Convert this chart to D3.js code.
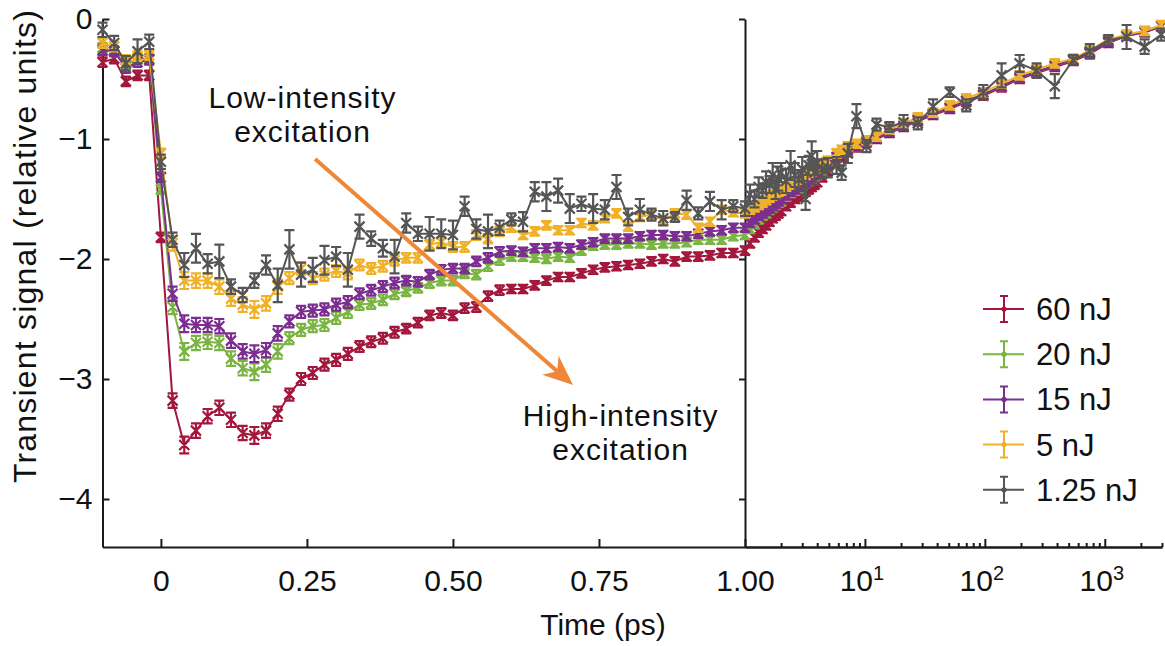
<!DOCTYPE html>
<html>
<head>
<meta charset="utf-8">
<script src="https://cdn.jsdelivr.net/npm/d3@7"></script>
<style>
  body { margin: 0; background: #fff; }
  svg { display: block; }
  text { font-family: "Liberation Sans", Arial, Helvetica, sans-serif; fill: #111; }
</style>
</head>
<body>
<svg id="chart" width="1165" height="646"></svg>
<script>
// ---- Data -----------------------------------------------------------------
// Delay times (ps): linear segment and logarithmic segment
const timeLeft = [-0.10,-0.08,-0.06,-0.04,-0.02,0.00,0.02,0.04,0.06,0.08,0.10,0.12,0.14,0.16,0.18,0.20,
  0.22,0.24,0.26,0.28,0.30,0.32,0.34,0.36,0.38,0.40,0.42,0.44,0.46,0.48,0.50,0.52,0.54,0.56,0.58,0.60,
  0.62,0.64,0.66,0.68,0.70,0.72,0.74,0.76,0.78,0.80,0.82,0.84,0.86,0.88,0.90,0.92,0.94,0.96,0.98,1.00];
const timeRight = [1.0,1.1,1.2,1.3,1.4,1.5,1.6,1.7,1.8,1.9,2.0,2.2,2.4,2.6,2.8,3.0,3.2,3.4,3.6,3.8,4.0,
  4.4,4.9,5.8,6.4,7.2,8.5,10.3,12.5,16,21,27.6,37,51,70,97,138,195,270,383,546,750,1070,1520,2150,2960];

const seriesLabels = ["60 nJ", "20 nJ", "15 nJ", "5 nJ", "1.25 nJ"];

// Transient signal, linear time segment
const sig60Left = [-0.36,-0.33,-0.52,-0.47,-0.47,-1.82,-3.18,-3.55,-3.43,-3.31,-3.24,-3.34,-3.45,-3.47,-3.43,-3.29,
  -3.13,-3.00,-2.95,-2.88,-2.84,-2.79,-2.73,-2.69,-2.66,-2.61,-2.58,-2.53,-2.47,-2.45,-2.47,-2.41,-2.40,-2.31,-2.26,-2.25,
  -2.25,-2.22,-2.18,-2.15,-2.15,-2.12,-2.09,-2.07,-2.06,-2.05,-2.04,-2.02,-2.00,-2.02,-1.98,-1.98,-1.97,-1.95,-1.95,-1.93];
const sig20Left = [-0.24,-0.27,-0.38,-0.33,-0.33,-1.42,-2.40,-2.77,-2.70,-2.69,-2.70,-2.83,-2.91,-2.94,-2.88,-2.77,
  -2.66,-2.59,-2.56,-2.55,-2.49,-2.44,-2.38,-2.37,-2.34,-2.29,-2.27,-2.24,-2.20,-2.18,-2.18,-2.12,-2.13,-2.06,-2.01,-1.98,
  -1.98,-1.99,-2.00,-1.98,-1.99,-1.93,-1.89,-1.88,-1.88,-1.87,-1.87,-1.88,-1.87,-1.87,-1.86,-1.84,-1.84,-1.84,-1.81,-1.80];
const sig15Left = [-0.26,-0.27,-0.41,-0.36,-0.34,-1.32,-2.29,-2.54,-2.55,-2.55,-2.56,-2.68,-2.77,-2.79,-2.76,-2.62,
  -2.52,-2.44,-2.43,-2.42,-2.38,-2.36,-2.29,-2.26,-2.23,-2.20,-2.18,-2.19,-2.13,-2.09,-2.08,-2.08,-2.02,-1.99,-1.94,-1.93,
  -1.94,-1.91,-1.91,-1.90,-1.91,-1.88,-1.86,-1.83,-1.83,-1.83,-1.81,-1.80,-1.80,-1.81,-1.81,-1.79,-1.77,-1.76,-1.74,-1.74];
const sig5Left = [-0.20,-0.23,-0.34,-0.31,-0.30,-1.12,-1.87,-2.18,-2.18,-2.18,-2.23,-2.33,-2.38,-2.42,-2.37,-2.23,
  -2.16,-2.08,-2.16,-2.13,-2.10,-2.12,-2.05,-2.08,-2.06,-2.01,-1.99,-1.99,-1.88,-1.86,-1.90,-1.90,-1.80,-1.83,-1.77,-1.74,
  -1.80,-1.77,-1.72,-1.76,-1.76,-1.70,-1.72,-1.66,-1.62,-1.73,-1.65,-1.63,-1.68,-1.62,-1.63,-1.74,-1.69,-1.59,-1.61,-1.62];
const sig125Left = [-0.09,-0.20,-0.37,-0.27,-0.19,-1.19,-1.84,-2.05,-1.91,-2.04,-2.02,-2.23,-2.30,-2.18,-2.05,-2.22,
  -1.92,-2.13,-2.09,-2.01,-1.98,-2.09,-1.73,-1.83,-1.91,-1.98,-1.70,-1.79,-1.79,-1.79,-1.80,-1.56,-1.75,-1.77,-1.74,-1.67,
  -1.69,-1.44,-1.48,-1.43,-1.58,-1.54,-1.58,-1.59,-1.40,-1.65,-1.59,-1.63,-1.66,-1.65,-1.51,-1.62,-1.52,-1.59,-1.56,-1.58];

// Transient signal, logarithmic time segment
const sig60Right = [-1.93,-1.87,-1.82,-1.78,-1.75,-1.72,-1.69,-1.66,-1.64,-1.62,-1.60,-1.56,-1.53,-1.50,-1.48,-1.46,
  -1.44,-1.42,-1.40,-1.38,-1.36,-1.32,-1.27,-1.19,-1.15,-1.11,-1.07,-1.03,-1.00,-0.95,-0.90,-0.85,-0.80,-0.75,-0.69,-0.64,
  -0.57,-0.50,-0.45,-0.40,-0.35,-0.29,-0.20,-0.14,-0.11,-0.06];
const sig20Right = [-1.80,-1.75,-1.71,-1.67,-1.64,-1.62,-1.59,-1.57,-1.55,-1.53,-1.52,-1.48,-1.45,-1.43,-1.41,-1.39,
  -1.37,-1.35,-1.33,-1.31,-1.30,-1.26,-1.22,-1.16,-1.12,-1.09,-1.06,-1.02,-0.99,-0.94,-0.89,-0.84,-0.79,-0.74,-0.68,-0.63,
  -0.56,-0.49,-0.44,-0.39,-0.34,-0.28,-0.19,-0.14,-0.10,-0.06];
const sig15Right = [-1.74,-1.70,-1.67,-1.64,-1.62,-1.60,-1.58,-1.56,-1.54,-1.52,-1.50,-1.47,-1.44,-1.42,-1.40,-1.38,
  -1.36,-1.34,-1.32,-1.30,-1.29,-1.25,-1.22,-1.15,-1.12,-1.09,-1.06,-1.02,-0.99,-0.94,-0.89,-0.84,-0.79,-0.74,-0.68,-0.63,
  -0.56,-0.49,-0.44,-0.39,-0.34,-0.28,-0.19,-0.14,-0.11,-0.06];
const sig5Right = [-1.62,-1.59,-1.57,-1.55,-1.53,-1.51,-1.49,-1.47,-1.46,-1.44,-1.43,-1.40,-1.38,-1.36,-1.34,-1.32,
  -1.30,-1.28,-1.27,-1.25,-1.24,-1.21,-1.18,-1.12,-1.09,-1.06,-1.04,-1.01,-0.98,-0.92,-0.87,-0.82,-0.78,-0.72,-0.66,-0.61,
  -0.54,-0.47,-0.42,-0.37,-0.33,-0.26,-0.17,-0.13,-0.10,-0.05];
const sig125Right = [-1.58,-1.46,-1.50,-1.40,-1.43,-1.36,-1.38,-1.30,-1.42,-1.33,-1.28,-1.35,-1.22,-1.30,-1.34,-1.25,
  -1.50,-1.22,-1.14,-1.28,-1.20,-1.25,-1.24,-1.22,-1.28,-1.12,-0.81,-1.06,-0.88,-0.90,-0.86,-0.87,-0.73,-0.61,-0.72,-0.61,
  -0.47,-0.37,-0.43,-0.56,-0.34,-0.27,-0.175,-0.15,-0.23,-0.13];

// Error-bar half widths (signal units)
const errColourLeft = [0.04,0.04,0.04,0.04,0.04,0.04,0.06,0.07,0.06,0.06,0.06,0.06,0.06,0.07,0.06,0.06,
  0.05,0.05,0.05,0.05,0.05,0.05,0.045,0.045,0.045,0.045,0.04,0.04,0.04,0.04,0.04,0.04,0.04,0.04,0.04,0.035,
  0.035,0.035,0.035,0.035,0.035,0.035,0.035,0.035,0.035,0.035,0.035,0.035,0.035,0.035,0.035,0.035,0.035,0.035,0.035,0.035];
const errGreyLeft = [0.06,0.06,0.06,0.10,0.06,0.06,0.06,0.10,0.12,0.08,0.14,0.06,0.06,0.06,0.08,0.14,
  0.16,0.10,0.10,0.12,0.08,0.14,0.10,0.06,0.07,0.14,0.08,0.06,0.14,0.12,0.12,0.08,0.08,0.14,0.06,0.05,
  0.08,0.08,0.12,0.10,0.12,0.06,0.12,0.08,0.10,0.07,0.09,0.05,0.06,0.04,0.08,0.05,0.08,0.08,0.05,0.06];
const errColourRight = [0.035,0.035,0.035,0.035,0.035,0.035,0.035,0.035,0.035,0.035,0.035,0.035,0.035,0.035,0.035,0.035,
  0.035,0.035,0.035,0.035,0.035,0.035,0.035,0.035,0.035,0.035,0.035,0.035,0.035,0.035,0.035,0.035,0.035,0.035,0.035,0.035,
  0.035,0.035,0.035,0.035,0.035,0.035,0.035,0.035,0.035,0.035];
const errGreyRight = [0.06,0.08,0.07,0.08,0.06,0.09,0.07,0.10,0.08,0.10,0.08,0.10,0.12,0.10,0.08,0.10,
  0.09,0.08,0.12,0.10,0.10,0.08,0.08,0.07,0.06,0.08,0.10,0.05,0.05,0.04,0.06,0.05,0.06,0.04,0.05,0.06,
  0.10,0.07,0.06,0.10,0.04,0.06,0.04,0.10,0.06,0.05];

const yTicks = [0, -1, -2, -3, -4];
const xTicksLinear = [0, 0.25, 0.5, 0.75, 1.0];
const xTickLabelsLinear = ["0", "0.25", "0.50", "0.75", "1.00"];
const xTicksLog = [10, 100, 1000];
const xTickExponents = ["1", "2", "3"];

// ---- Styles -----------------------------------------------------------------
const colours = ["#a4173c", "#7ab443", "#7b2e8f", "#f0b12a", "#555555"];
const AXIS = "#1a1a1a";

// ---- Scales ---------------------------------------------------------------
const svg = d3.select("#chart");
const xL = d3.scaleLinear().domain([-0.1, 1.0]).range([102.5, 745]);
const xR = d3.scaleLog().domain([1, 3000]).range([745, 1162]);
const y  = d3.scaleLinear().domain([-4.4, 0]).range([547, 19]);

// ---- Axes -----------------------------------------------------------------
function styleAxis(g) {
  g.selectAll("path, line").attr("stroke", AXIS).attr("stroke-width", 2);
  g.selectAll("text").attr("fill", "#111").attr("font-family", null);
}
const fmtY = d => d === 0 ? "0" : "\u2212" + Math.abs(d);

svg.append("g").attr("transform", "translate(102.5,0)")
  .call(d3.axisLeft(y).tickValues(yTicks).tickFormat(fmtY).tickSizeInner(-7).tickSizeOuter(0).tickPadding(10))
  .call(styleAxis)
  .call(g => g.selectAll("text").attr("font-size", 30));

svg.append("g").attr("transform", "translate(745,0)")
  .call(d3.axisRight(y).tickValues(yTicks).tickFormat("").tickSizeInner(-6).tickSizeOuter(0))
  .call(styleAxis);

svg.append("g").attr("transform", "translate(0,547)")
  .call(d3.axisBottom(xL).tickValues(xTicksLinear).tickFormat((d, i) => xTickLabelsLinear[i])
        .tickSizeInner(-8).tickSizeOuter(0).tickPadding(23))
  .call(styleAxis)
  .call(g => g.selectAll("text").attr("font-size", 30));

// log segment: minor ticks, then majors with superscript labels
const minorTicks = [];
[1, 10, 100, 1000].forEach(dec => { for (let k = 2; k <= 9; k++) { if (dec * k <= 3000) minorTicks.push(dec * k); } });
svg.append("g").attr("transform", "translate(0,547)")
  .call(d3.axisBottom(xR).tickValues(minorTicks).tickFormat("").tickSizeInner(-4).tickSizeOuter(0))
  .call(styleAxis);
svg.append("g").attr("transform", "translate(0,547)")
  .call(d3.axisBottom(xR).tickValues(xTicksLog).tickFormat("").tickSizeInner(-8).tickSizeOuter(0))
  .call(styleAxis);
xTicksLog.forEach((v, i) => {
  const t = svg.append("text").attr("x", xR(v) - 3).attr("y", 591)
    .attr("text-anchor", "middle").attr("font-size", 30);
  t.append("tspan").text("10");
  t.append("tspan").attr("dy", -11).attr("font-size", 20).text(xTickExponents[i]);
});

// Axis titles
svg.append("text").attr("x", 603).attr("y", 635).attr("text-anchor", "middle")
  .attr("font-size", 30).text("Time (ps)");
svg.append("text").attr("transform", "translate(36,246) rotate(-90)")
  .attr("text-anchor", "middle").attr("font-size", 32).attr("letter-spacing", 1.2)
  .text("Transient signal (relative units)");

// ---- Series ---------------------------------------------------------------
const leftData  = [sig60Left, sig20Left, sig15Left, sig5Left, sig125Left];
const rightData = [sig60Right, sig20Right, sig15Right, sig5Right, sig125Right];

const plot = svg.append("g");
leftData.forEach((vals, s) => {
  const grey = s === 4;
  const eL = grey ? errGreyLeft : errColourLeft;
  const eR = grey ? errGreyRight : errColourRight;
  const pts = timeLeft.map((t, i) => ({ x: xL(t), v: vals[i], e: eL[i] }))
    .concat(timeRight.slice(1).map((t, i) => ({ x: xR(t), v: rightData[s][i + 1], e: eR[i + 1] })));
  const g = plot.append("g").attr("stroke", colours[s]).attr("fill", "none")
    .attr("stroke-linecap", "butt");
  g.append("path")
    .attr("d", d3.line().x(p => p.x).y(p => y(p.v))(pts))
    .attr("stroke-width", 2).attr("stroke-linejoin", "round");
  const m = 5, c = 5;
  const d = pts.map(p => {
    const cy = y(p.v), top = y(p.v + p.e), bot = y(p.v - p.e);
    return `M${p.x},${top}V${bot}` +
      `M${p.x - c},${top}H${p.x + c}M${p.x - c},${bot}H${p.x + c}` +
      `M${p.x - m},${cy - m}L${p.x + m},${cy + m}M${p.x - m},${cy + m}L${p.x + m},${cy - m}`;
  }).join("");
  g.append("path").attr("d", d).attr("stroke-width", 2.2);
});

// ---- Annotations ----------------------------------------------------------
function annotationLine(cx, v, label) {
  svg.append("text").attr("x", xL(cx)).attr("y", y(v))
    .attr("font-size", 30).attr("letter-spacing", 1).attr("text-anchor", "middle").text(label);
}
annotationLine(0.2425, -0.74, "Low-intensity");
annotationLine(0.2425, -1.023, "excitation");
annotationLine(0.787, -3.395, "High-intensity");
annotationLine(0.787, -3.678, "excitation");

// Arrow from low- to high-intensity
const a0 = [xL(0.264), y(-1.167)], a1 = [xL(0.7055), y(-3.05)];
const dx = a1[0] - a0[0], dy = a1[1] - a0[1], len = Math.hypot(dx, dy);
const ux = dx / len, uy = dy / len, px = -uy, py = ux;
const headBack = 30, headHalf = 12.5, notch = 21;
svg.append("line")
  .attr("x1", a0[0]).attr("y1", a0[1])
  .attr("x2", a1[0] - ux * notch).attr("y2", a1[1] - uy * notch)
  .attr("stroke", "#ef8738").attr("stroke-width", 4);
svg.append("path")
  .attr("d", `M${a1[0]},${a1[1]}` +
    `L${a1[0] - ux * headBack + px * headHalf},${a1[1] - uy * headBack + py * headHalf}` +
    `L${a1[0] - ux * notch},${a1[1] - uy * notch}` +
    `L${a1[0] - ux * headBack - px * headHalf},${a1[1] - uy * headBack - py * headHalf}Z`)
  .attr("fill", "#ef8738");

// ---- Legend ---------------------------------------------------------------
const legend = svg.append("g").attr("transform", "translate(983,309)");
seriesLabels.forEach((lab, i) => {
  const g = legend.append("g").attr("transform", `translate(0,${i * 45.2})`);
  g.append("path")
    .attr("d", "M0,0H41M21,-13V13M17,-13H25M17,13H25")
    .attr("stroke", colours[i]).attr("stroke-width", 2).attr("fill", "none");
  g.append("circle").attr("cx", 21).attr("cy", 0).attr("r", 2.6).attr("fill", colours[i]);
  g.append("text").attr("x", 53).attr("y", 11).attr("font-size", 31).text(lab);
});
</script>
</body>
</html>
